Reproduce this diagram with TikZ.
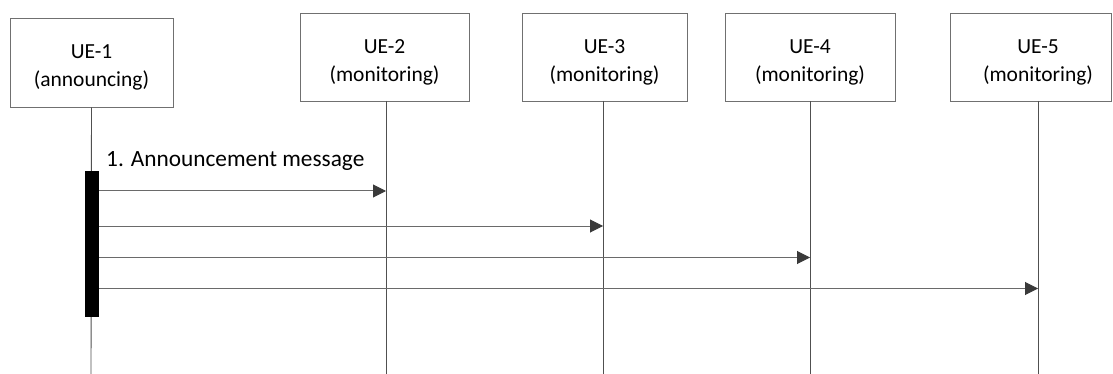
\documentclass[tikz,border=0pt]{standalone}
\usepackage{fontspec}
\setmainfont{Carlito}
\usetikzlibrary{arrows.meta}
\definecolor{boxline}{HTML}{707070}
\definecolor{lifeline}{HTML}{505050}
\definecolor{msgline}{HTML}{6A6A6A}
\definecolor{tipfill}{HTML}{3A3A3A}
\newcommand{\topstrut}{\rule{0pt}{24pt}}
\tikzset{
  uebox/.style={draw=boxline, line width=0.9pt, align=center, inner sep=0pt,
    font=\fontsize{21.5}{28}\selectfont},
  lifel/.style={draw=lifeline, line width=0.9pt},
  msg/.style={draw=msgline, line width=1pt,
    -{Triangle[length=13pt,width=13pt,fill=tipfill,color=tipfill]}},
  actbar/.style={fill=black, draw=none, inner sep=0pt, minimum width=14pt, minimum height=146pt},
  msglabel/.style={font=\fontsize{23.3}{28}\selectfont, inner sep=0pt, anchor=base west}
}
\begin{document}
\begin{tikzpicture}[x=1pt,y=-1pt]
\useasboundingbox (0,0) rectangle (1113,374);
% participant boxes
\node[uebox, minimum width=163pt, minimum height=89pt] (u1) at (91.5,62.5) {\topstrut UE-1\\(announcing)};
\node[uebox, minimum width=169pt, minimum height=88pt] (u2) at (384.5,57) {\topstrut UE-2\\(monitoring)};
\node[uebox, minimum width=165pt, minimum height=88pt] (u3) at (604.5,57) {\topstrut UE-3\\(monitoring)};
\node[uebox, minimum width=170pt, minimum height=88pt] (u4) at (810,57) {\topstrut UE-4\\(monitoring)};
\draw[draw=boxline, line width=0.9pt] (950,13) rectangle (1111.5,101);
\node[uebox, draw=none, minimum height=88pt] (u5) at (1038,57) {\topstrut UE-5\\(monitoring)};
% lifeline ends
\coordinate (e1) at (91,374);
\coordinate (e2) at (386,374);
\coordinate (e3) at (603,374);
\coordinate (e4) at (810,374);
\coordinate (e5) at (1038,374);
\coordinate (s2) at (386,101);
\coordinate (s3) at (603,101);
\coordinate (s5) at (1038,101);
\draw[lifel] (u1.south) -- (e1);
\draw[lifel] (s2) -- (e2);
\draw[lifel] (s3) -- (e3);
\draw[lifel] (u4.south) -- (e4);
\draw[lifel] (s5) -- (e5);
% activation bar
\node[actbar] (bar) at (92,244) {};
% messages
\node[msglabel] (lab) at (106,167) {1. Announcement message};
\coordinate (a1) at (99,191);
\coordinate (a2) at (99,226);
\coordinate (a3) at (99,257.5);
\coordinate (a4) at (99,288.5);
\coordinate (t1) at (386,191);
\coordinate (t2) at (603,226);
\coordinate (t3) at (810,257.5);
\coordinate (t4) at (1038,288.5);
\draw[msg] (a1) -- (t1);
\draw[msg] (a2) -- (t2);
\draw[msg] (a3) -- (t3);
\draw[msg] (a4) -- (t4);
\end{tikzpicture}
\end{document}
